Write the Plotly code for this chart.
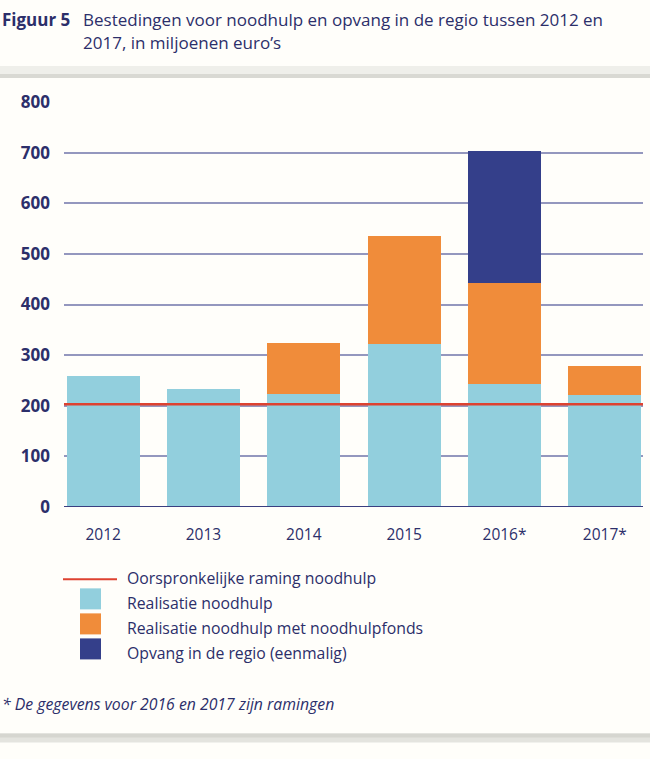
import plotly.graph_objects as go

years = ["2012", "2013", "2014", "2015", "2016*", "2017*"]
realisatie = [258, 234, 224, 321, 242, 221]
noodhulpfonds = [0, 0, 100, 214, 201, 57]
opvang_regio = [0, 0, 0, 0, 261, 0]
raming = 203
y_ticks = [0, 100, 200, 300, 400, 500, 600, 700, 800]

C_LIGHT = "#92CFDD"
C_ORANGE = "#F08C3A"
C_DARK = "#343F8A"
C_RED = "#DE4230"
C_TEXT = "#2C2F6A"
C_GRID = "#9497BE"
BG = "#FFFEFA"
FONT = "Open Sans"

W, H = 650, 759
L, R, T, B = 64, 643, 102, 506.7


def px(x):
    return (x - L) / (R - L)


def py(y):
    return (B - y) / (B - T)


fig = go.Figure()
fig.add_trace(go.Bar(x=years, y=realisatie, marker=dict(color=C_LIGHT, line=dict(width=0)),
                     name="Realisatie noodhulp"))
fig.add_trace(go.Bar(x=years, y=noodhulpfonds, marker=dict(color=C_ORANGE, line=dict(width=0)),
                     name="Realisatie noodhulp met noodhulpfonds"))
fig.add_trace(go.Bar(x=years, y=opvang_regio, marker=dict(color=C_DARK, line=dict(width=0)),
                     name="Opvang in de regio (eenmalig)"))

shapes = []
# red line (original estimate)
shapes.append(dict(type="line", xref="paper", yref="y", x0=0, x1=1, y0=raming, y1=raming,
                   line=dict(color=C_RED, width=2.5), layer="above"))
# zero line
shapes.append(dict(type="line", xref="paper", yref="y", x0=0, x1=1, y0=0, y1=0,
                   line=dict(color="#3A3F80", width=2), layer="above"))
# panel shadows top / bottom
shapes.append(dict(type="rect", xref="paper", yref="paper", x0=px(0), x1=px(650),
                   y0=py(76), y1=py(66), fillcolor="#EFEFEA", line=dict(width=0), layer="below"))
shapes.append(dict(type="rect", xref="paper", yref="paper", x0=px(0), x1=px(650),
                   y0=py(78), y1=py(74), fillcolor="#D9D9D3", line=dict(width=0), layer="below"))
shapes.append(dict(type="rect", xref="paper", yref="paper", x0=px(0), x1=px(650),
                   y0=py(742), y1=py(733), fillcolor="#E4E4DF", line=dict(width=0), layer="below"))
shapes.append(dict(type="rect", xref="paper", yref="paper", x0=px(0), x1=px(650),
                   y0=py(737), y1=py(733), fillcolor="#D6D6D0", line=dict(width=0), layer="below"))
# legend symbols
shapes.append(dict(type="line", xref="paper", yref="paper", x0=px(63), x1=px(117),
                   y0=py(579), y1=py(579), line=dict(color=C_RED, width=2)))
for col, (y0, y1) in zip([C_LIGHT, C_ORANGE, C_DARK], [(588, 609), (613, 634), (638, 659)]):
    shapes.append(dict(type="rect", xref="paper", yref="paper", x0=px(80), x1=px(101),
                       y0=py(y1), y1=py(y0), fillcolor=col, line=dict(width=0)))

annotations = []
legend_texts = ["Oorspronkelijke raming noodhulp", "Realisatie noodhulp",
                "Realisatie noodhulp met noodhulpfonds", "Opvang in de regio (eenmalig)"]
for txt, yy in zip(legend_texts, [578, 603, 628, 653]):
    annotations.append(dict(xref="paper", yref="paper", x=px(125), y=py(yy), text=txt,
                            showarrow=False, xanchor="left", yanchor="middle",
                            font=dict(family=FONT, size=15.8, color=C_TEXT)))
annotations.append(dict(xref="paper", yref="paper", x=px(0), y=py(20),
                        text="<b>Figuur 5</b>", showarrow=False, xanchor="left", yanchor="middle",
                        font=dict(family=FONT, size=17, color=C_TEXT)))
for txt, yy in zip(["Bestedingen voor noodhulp en opvang in de regio tussen 2012 en",
                    "2017, in miljoenen euro\u2019s"], [20, 43]):
    annotations.append(dict(xref="paper", yref="paper", x=px(81), y=py(yy), text=txt,
                            showarrow=False, xanchor="left", yanchor="middle",
                            font=dict(family=FONT, size=17, color=C_TEXT)))
annotations.append(dict(xref="paper", yref="paper", x=px(0), y=py(704),
                        text="<i>* De gegevens voor 2016 en 2017 zijn ramingen</i>",
                        showarrow=False, xanchor="left", yanchor="middle",
                        font=dict(family=FONT, size=15.8, color=C_TEXT)))

fig.update_layout(
    width=W, height=H,
    margin=dict(l=L, r=W - R, t=T, b=H - B, pad=0),
    paper_bgcolor=BG, plot_bgcolor=BG,
    barmode="stack", bargap=0.27,
    showlegend=False,
    shapes=shapes, annotations=annotations,
    xaxis=dict(type="category", range=[-0.39, 5.38], showgrid=False, zeroline=False,
               showline=False, ticks="", ticklabelstandoff=16,
               tickfont=dict(family=FONT, size=15.5, color=C_TEXT), fixedrange=True),
    yaxis=dict(range=[0, 800], tickvals=y_ticks, showgrid=True, gridcolor=C_GRID, gridwidth=1.5,
               zeroline=False, showline=False, ticks="", ticklabelstandoff=13,
               tickfont=dict(family=FONT, size=17, color=C_TEXT, weight="bold"), fixedrange=True),
)

fig.write_html("out.html")
